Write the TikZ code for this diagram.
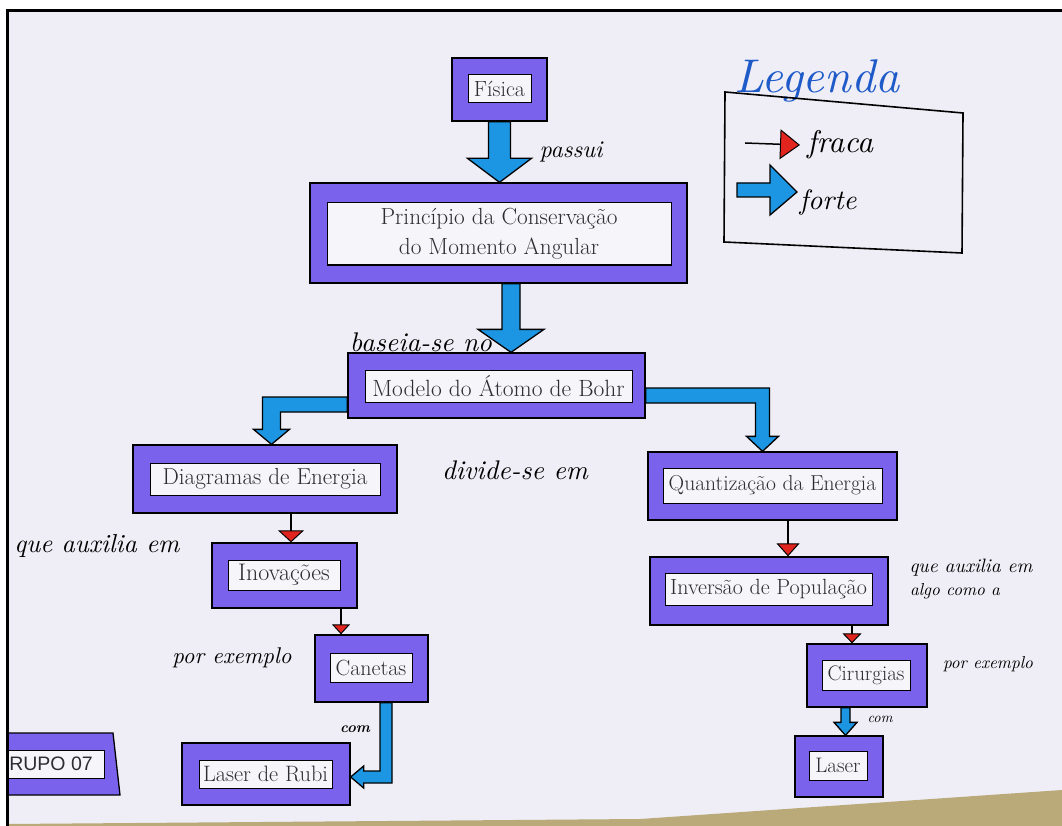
\documentclass[tikz,border=0pt]{standalone}
\usepackage{fontspec}
\usepackage{graphicx}
\usetikzlibrary{arrows.meta,calc}
\newfontfamily\grpfont{Liberation Sans}

\definecolor{paper}{RGB}{239,238,246}
\definecolor{boxpurple}{RGB}{123,98,236}
\definecolor{boxwhite}{RGB}{246,245,250}
\definecolor{arrowblue}{RGB}{28,150,226}
\definecolor{arrowred}{RGB}{226,36,30}
\definecolor{inkblue}{RGB}{30,90,200}
\definecolor{wall}{RGB}{186,170,122}
\definecolor{textgrey}{RGB}{45,45,52}

\tikzset{
  outerbox/.style={draw=black, line width=1.3pt, fill=boxpurple, inner sep=0pt},
  innerbox/.style={draw=black, line width=1pt, fill=boxwhite, inner sep=0pt,
    text=textgrey, align=center},
  blk/.style={draw=black, line width=1.3pt, fill=arrowblue, line join=miter},
  weak/.style={draw=black, line width=2.4pt},
  hand/.style={inner sep=0pt, text=black, anchor=base},
}

% concept box: [font size], name, outer centre, outer w, outer h, inner centre, inner w, inner h, text
\newcommand\conceptbox[9][23.3]{%
  \node[outerbox, minimum width=#4pt, minimum height=#5pt] (#2) at (#3) {};
  \node[innerbox, minimum width=#7pt, minimum height=#8pt,
        font=\fontsize{#1}{30}\selectfont] (#2-t) at (#6) {#9};
}
% straight block arrow downwards: source, target, shaft half, head half, head length
\newcommand\blockdown[5]{%
  \draw[blk] let \p1=(#1), \p2=(#2) in
    (\x1-#3,\y1) -- (\x1-#3,\y2+#5) -- (\x1-#4,\y2+#5) -- (\x1,\y2)
    -- (\x1+#4,\y2+#5) -- (\x1+#3,\y2+#5) -- (\x1+#3,\y1) -- cycle;
}
% handwritten label scaled to a given width
\newcommand\hw[2]{\resizebox{#1pt}{!}{\itshape #2}}

\begin{document}
\begin{tikzpicture}[x=1pt,y=-1pt]
\useasboundingbox (0,0) rectangle (1062,826);
\fill[white] (0,0) rectangle (1062,826);
\fill[paper] (7.5,10.5) rectangle (1062,826);
\fill[wall] (7.5,824) -- (640,819) -- (1062,790) -- (1062,826) -- (7.5,826) -- cycle;

% concept boxes
\conceptbox[22]{fis}{499.5,89.5}{95}{63}{499.5,89}{63}{28}{Física}
\conceptbox[23.3]{pcm}{498.5,233}{377}{100}{499,234}{344}{62}{Princípio da Conservação\\do Momento Angular}
\conceptbox[23.5]{mod}{496.5,385.5}{297}{65}{498.5,386}{267}{32}{Modelo do Átomo de Bohr}
\conceptbox[23.1]{dia}{265,479}{264}{68}{265,479}{230}{32}{Diagramas de Energia}
\conceptbox[24]{ino}{284.5,575.5}{145}{65}{284,575}{112}{30}{Inovações}
\conceptbox[22]{can}{371.5,668.5}{113}{67}{371,667.5}{82}{29}{Canetas}
\conceptbox[22.3]{lrb}{266,774}{168}{62}{265.5,774}{133}{28}{Laser de Rubi}
\conceptbox[21.6]{qua}{772.5,486}{249}{68}{772.5,485.5}{219}{35}{Quantização da Energia}
\conceptbox[22]{inv}{769,591}{238}{68}{768.5,589}{207}{32}{Inversão de População}
\conceptbox[21]{cir}{867,675.5}{120}{63}{866,675}{88}{30}{Cirurgias}
\conceptbox[21]{las}{839,766.5}{88}{61}{838,765.5}{58}{29}{Laser}

% group tag
\draw[outerbox] (7.5,733) -- (113,733) -- (120,795) -- (7.5,795) -- cycle;
\node[innerbox, minimum width=96pt, minimum height=28pt,
      font=\grpfont\fontsize{19.5}{20}\selectfont] (grp) at (56,764) {RUPO 07\hspace{10pt}};

% strong connectors
\blockdown{fis.south}{pcm.north}{11pt}{32pt}{24pt}
\blockdown{$(pcm.south)+(12.5,0)$}{mod.north}{9pt}{33pt}{23pt}

\coordinate (mod-l) at ($(mod.west)+(0,19)$);
\coordinate (dia-in) at ($(dia.north)+(6.5,0)$);
\draw[blk] let \p1=(mod-l), \p2=(dia-in) in
  (\x1,\y1+7.5pt) -- (\x2-9pt,\y1+7.5pt) -- (\x2-9pt,\y2+15pt) -- (\x2-18pt,\y2+15pt)
  -- (\x2,\y2) -- (\x2+18pt,\y2+15pt) -- (\x2+9pt,\y2+15pt) -- (\x2+9pt,\y1-7.5pt)
  -- (\x1,\y1-7.5pt) -- cycle;

\coordinate (mod-r) at ($(mod.east)+(0,10)$);
\coordinate (qua-in) at ($(qua.north)+(-10,0)$);
\draw[blk] let \p1=(mod-r), \p2=(qua-in) in
  (\x1,\y1+7.5pt) -- (\x2+7pt,\y1+7.5pt) -- (\x2+7pt,\y2+15pt) -- (\x2+16pt,\y2+15pt)
  -- (\x2,\y2) -- (\x2-16pt,\y2+15pt) -- (\x2-7pt,\y2+15pt) -- (\x2-7pt,\y1-7.5pt)
  -- (\x1,\y1-7.5pt) -- cycle;

\coordinate (can-b) at ($(can.south)+(14.5,0)$);
\coordinate (lrb-in) at ($(lrb.east)+(0,3)$);
\draw[blk] let \p1=(can-b), \p2=(lrb-in) in
  (\x1-6pt,\y1) -- (\x1-6pt,\y2+6pt) -- (\x2+13pt,\y2+6pt) -- (\x2+13pt,\y2+11pt)
  -- (\x2,\y2) -- (\x2+13pt,\y2-11pt) -- (\x2+13pt,\y2-6pt) -- (\x1+6pt,\y2-6pt)
  -- (\x1+6pt,\y1) -- cycle;

\blockdown{$(cir.south)+(-21.5,0)$}{las.north}{4.5pt}{11.5pt}{13pt}

% weak connectors
\coordinate (d2i) at ($(dia.south)+(26,0)$);
\draw[weak, -{Triangle[width=26pt,length=12pt,fill=arrowred,line width=1pt]}] (d2i) -- (d2i |- ino.north);
\coordinate (i2c) at ($(ino.south)+(56.5,0)$);
\draw[weak, -{Triangle[width=18pt,length=10pt,fill=arrowred,line width=1pt]}] (i2c) -- (i2c |- can.north);
\coordinate (q2v) at ($(qua.south)+(15.5,0)$);
\draw[weak, -{Triangle[width=23pt,length=13pt,fill=arrowred,line width=1pt]}] (q2v) -- (q2v |- inv.north);
\coordinate (v2c) at ($(inv.south)+(83,0)$);
\draw[weak, -{Triangle[width=19pt,length=10pt,fill=arrowred,line width=1pt]}] (v2c) -- (v2c |- cir.north);

% link phrases
\node[hand] (l-passui) at (571,158) {\hw{63}{passui}};
\node[hand] (l-baseia) at (421,351) {\hw{142}{baseia-se no}};
\node[hand] (l-divide) at (515,479) {\hw{146}{divide-se em}};
\node[hand] (l-aux1) at (97,552) {\hw{165}{que auxilia em}};
\node[hand] (l-ex1) at (232,663) {\hw{119}{por exemplo}};
\node[hand] (l-com1) at (355,732) {\hw{30}{\bfseries com}};
\node[hand] (l-aux2) at (971,572) {\hw{123}{que auxilia em}};
\node[hand] (l-algo) at (955,595) {\hw{90}{algo como a}};
\node[hand] (l-ex2) at (988,668) {\hw{90}{por exemplo}};
\node[hand] (l-com2) at (880,722) {\hw{25}{com}};

% legend
\node[hand, text=inkblue] (leg-title) at (817,93) {\hw{165}{Legenda}};
\coordinate (lg1) at (725,92);
\coordinate (lg2) at (963,113);
\coordinate (lg3) at (962,253);
\coordinate (lg4) at (724,242);
\draw[line width=1.6pt] (lg1) -- (lg2) -- (lg3) -- (lg4) -- cycle;
\coordinate (lw-a) at (745,143);
\coordinate (lw-b) at (800,145);
\draw[line width=1.5pt, -{Triangle[width=30pt,length=20pt,fill=arrowred,line width=1pt]}] (lw-a) -- (lw-b);
\node[hand] (leg-weak) at (840,153) {\hw{66}{fraca}};
\draw[blk] (737,183) -- (770,183) -- (770,165) -- (797,192) -- (770,215) -- (770,197) -- (737,197) -- cycle;
\node[hand] (leg-strong) at (828,210) {\hw{57}{forte}};

% frame edge
\draw[line width=3pt] (7.5,826) -- (7.5,10.5) -- (1062,10.5);
\end{tikzpicture}
\end{document}
